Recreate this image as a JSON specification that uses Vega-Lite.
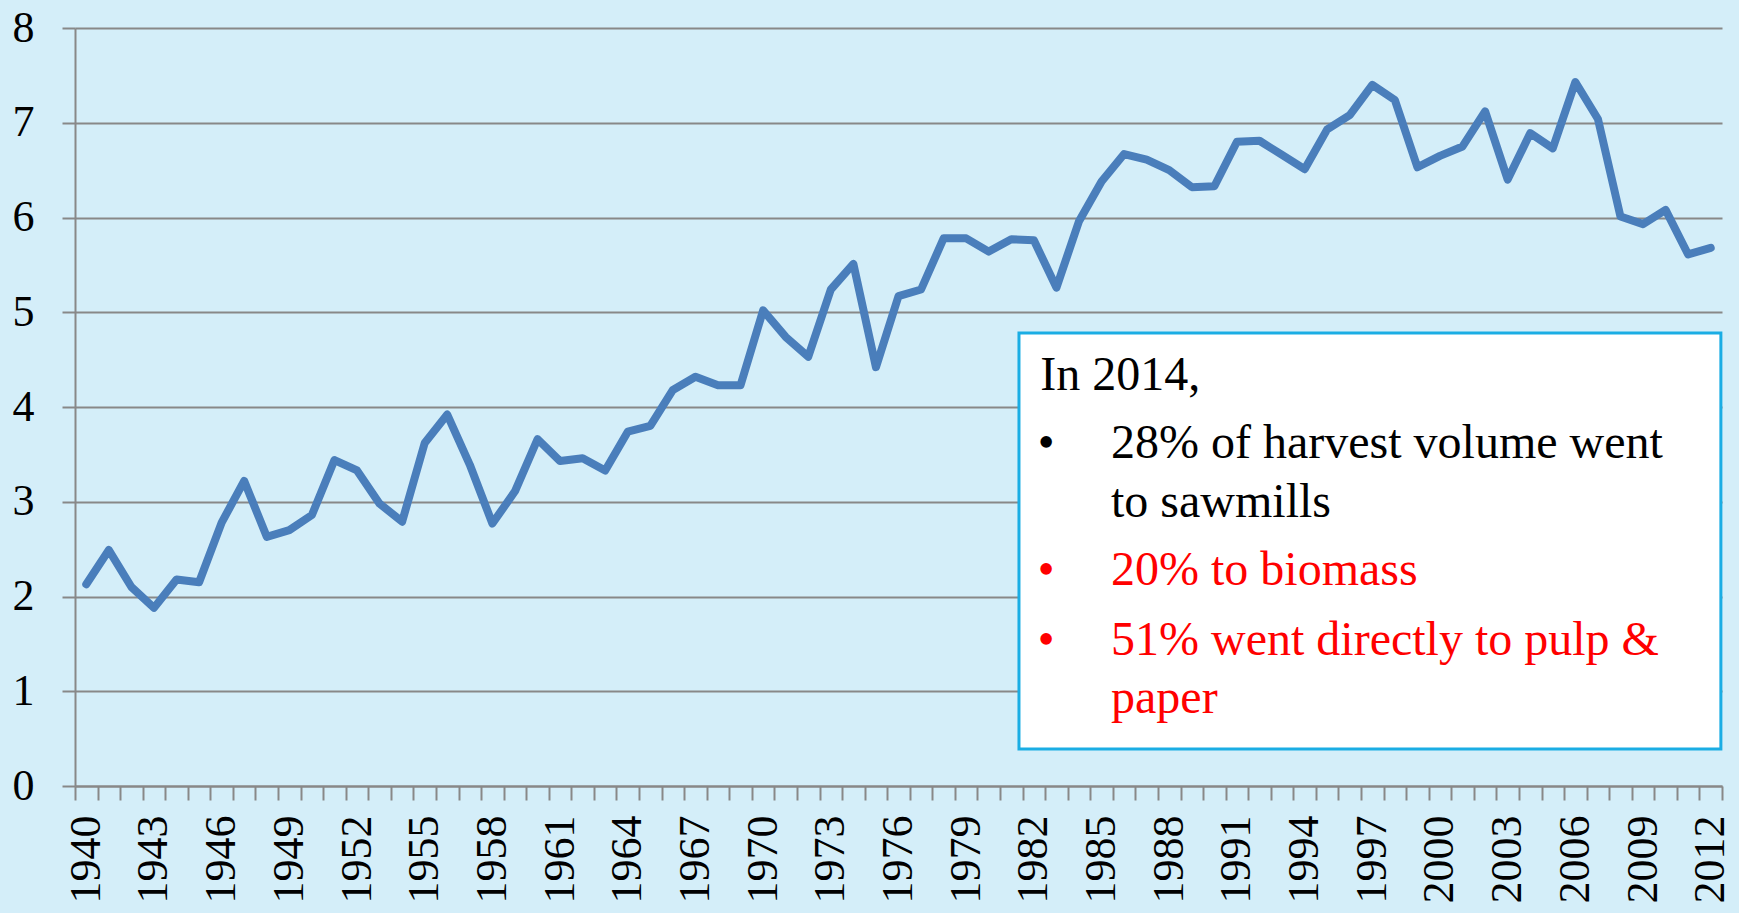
{
  "$schema": "https://vega.github.io/schema/vega-lite/v6.json",
  "width": 1647,
  "height": 758,
  "autosize": {"type": "none"},
  "padding": {"left": 75, "top": 28, "right": 17, "bottom": 127},
  "background": "#D4EEF9",
  "config": {
    "view": {"stroke": null},
    "axis": {
      "labelFont": "Liberation Serif",
      "labelFontSize": 44,
      "labelColor": "#000000",
      "domainColor": "#888888",
      "domainWidth": 2,
      "tickColor": "#888888",
      "tickWidth": 2,
      "gridColor": "#888888",
      "gridWidth": 1.8,
      "title": null
    }
  },
  "data": {
    "values": [
      {"year": 1940, "value": 2.13}, {"year": 1941, "value": 2.49}, {"year": 1942, "value": 2.10},
      {"year": 1943, "value": 1.88}, {"year": 1944, "value": 2.18}, {"year": 1945, "value": 2.15},
      {"year": 1946, "value": 2.78}, {"year": 1947, "value": 3.22}, {"year": 1948, "value": 2.63},
      {"year": 1949, "value": 2.70}, {"year": 1950, "value": 2.86}, {"year": 1951, "value": 3.44},
      {"year": 1952, "value": 3.33}, {"year": 1953, "value": 2.98}, {"year": 1954, "value": 2.79},
      {"year": 1955, "value": 3.62}, {"year": 1956, "value": 3.92}, {"year": 1957, "value": 3.39},
      {"year": 1958, "value": 2.77}, {"year": 1959, "value": 3.11}, {"year": 1960, "value": 3.66},
      {"year": 1961, "value": 3.43}, {"year": 1962, "value": 3.46}, {"year": 1963, "value": 3.33},
      {"year": 1964, "value": 3.74}, {"year": 1965, "value": 3.80}, {"year": 1966, "value": 4.18},
      {"year": 1967, "value": 4.32}, {"year": 1968, "value": 4.23}, {"year": 1969, "value": 4.23},
      {"year": 1970, "value": 5.02}, {"year": 1971, "value": 4.74}, {"year": 1972, "value": 4.53},
      {"year": 1973, "value": 5.24}, {"year": 1974, "value": 5.51}, {"year": 1975, "value": 4.42},
      {"year": 1976, "value": 5.17}, {"year": 1977, "value": 5.24}, {"year": 1978, "value": 5.78},
      {"year": 1979, "value": 5.78}, {"year": 1980, "value": 5.64}, {"year": 1981, "value": 5.77},
      {"year": 1982, "value": 5.76}, {"year": 1983, "value": 5.26}, {"year": 1984, "value": 5.96},
      {"year": 1985, "value": 6.38}, {"year": 1986, "value": 6.67}, {"year": 1987, "value": 6.61},
      {"year": 1988, "value": 6.50}, {"year": 1989, "value": 6.32}, {"year": 1990, "value": 6.33},
      {"year": 1991, "value": 6.80}, {"year": 1992, "value": 6.81}, {"year": 1993, "value": 6.66},
      {"year": 1994, "value": 6.51}, {"year": 1995, "value": 6.93}, {"year": 1996, "value": 7.08},
      {"year": 1997, "value": 7.40}, {"year": 1998, "value": 7.24}, {"year": 1999, "value": 6.53},
      {"year": 2000, "value": 6.65}, {"year": 2001, "value": 6.75}, {"year": 2002, "value": 7.12},
      {"year": 2003, "value": 6.40}, {"year": 2004, "value": 6.89}, {"year": 2005, "value": 6.73},
      {"year": 2006, "value": 7.43}, {"year": 2007, "value": 7.04}, {"year": 2008, "value": 6.01},
      {"year": 2009, "value": 5.93}, {"year": 2010, "value": 6.08}, {"year": 2011, "value": 5.61},
      {"year": 2012, "value": 5.68}
    ]
  },
  "layer": [
    {
      "mark": {"type": "line", "color": "#4A7EBB", "strokeWidth": 8, "strokeJoin": "round", "strokeCap": "round"},
      "encoding": {
        "x": {
          "field": "year", "type": "quantitative",
          "scale": {"domain": [1939.5, 2012.5], "nice": false, "zero": false},
          "axis": {
            "values": [1939.5, 1940.5, 1941.5, 1942.5, 1943.5, 1944.5, 1945.5, 1946.5, 1947.5, 1948.5, 1949.5, 1950.5, 1951.5, 1952.5, 1953.5, 1954.5, 1955.5, 1956.5, 1957.5, 1958.5, 1959.5, 1960.5, 1961.5, 1962.5, 1963.5, 1964.5, 1965.5, 1966.5, 1967.5, 1968.5, 1969.5, 1970.5, 1971.5, 1972.5, 1973.5, 1974.5, 1975.5, 1976.5, 1977.5, 1978.5, 1979.5, 1980.5, 1981.5, 1982.5, 1983.5, 1984.5, 1985.5, 1986.5, 1987.5, 1988.5, 1989.5, 1990.5, 1991.5, 1992.5, 1993.5, 1994.5, 1995.5, 1996.5, 1997.5, 1998.5, 1999.5, 2000.5, 2001.5, 2002.5, 2003.5, 2004.5, 2005.5, 2006.5, 2007.5, 2008.5, 2009.5, 2010.5, 2011.5, 2012.5],
            "tickCount": 100,
            "labelExpr": "(datum.value + 0.5 - 1940) % 3 == 0 ? '' + (datum.value + 0.5) : ''",
            "labelFont": "Liberation Serif",
            "labelOffset": 11.28,
            "labelAngle": -90,
            "labelPadding": 15,
            "tickSize": 14,
            "grid": false,
            "labelOverlap": false,
            "labelBound": false,
            "labelFlush": false
          }
        },
        "y": {
          "field": "value", "type": "quantitative",
          "scale": {"domain": [0, 8], "nice": false},
          "axis": {
            "values": [0, 1, 2, 3, 4, 5, 6, 7, 8],
            "tickCount": 20,
            "format": "d",
            "labelFont": "Liberation Serif",
            "tickSize": 13,
            "labelPadding": 28,
            "grid": true,
            "labelOverlap": false,
            "labelFlush": false
          }
        }
      }
    },
    {
      "data": {"values": [{}]},
      "mark": {"type": "rect", "fill": "#FFFFFF", "stroke": "#1AADE4", "strokeWidth": 3},
      "encoding": {
        "x": {"datum": 1981.34, "type": "quantitative"},
        "x2": {"datum": 2012.45},
        "y": {"datum": 4.78, "type": "quantitative"},
        "y2": {"datum": 0.39}
      }
    },
    {
      "data": {"values": [{}]},
      "mark": {"type": "text", "text": "In 2014,", "font": "Liberation Serif", "fontSize": 48, "align": "left", "baseline": "alphabetic", "color": "#000000"},
      "encoding": {
        "x": {"datum": 1982.28, "type": "quantitative"},
        "y": {"datum": 4.18, "type": "quantitative"}
      }
    },
    {
      "data": {"values": [{}]},
      "mark": {"type": "text", "text": "•", "font": "Liberation Serif", "fontSize": 48, "align": "center", "baseline": "alphabetic", "color": "#000000"},
      "encoding": {
        "x": {"datum": 1982.54, "type": "quantitative"},
        "y": {"datum": 3.462, "type": "quantitative"}
      }
    },
    {
      "data": {"values": [{}]},
      "mark": {"type": "text", "text": ["28% of harvest volume went", "to sawmills"], "lineHeight": 59, "font": "Liberation Serif", "fontSize": 48, "align": "left", "baseline": "alphabetic", "color": "#000000"},
      "encoding": {
        "x": {"datum": 1985.42, "type": "quantitative"},
        "y": {"datum": 3.462, "type": "quantitative"}
      }
    },
    {
      "data": {"values": [{}]},
      "mark": {"type": "text", "text": "•", "font": "Liberation Serif", "fontSize": 48, "align": "center", "baseline": "alphabetic", "color": "#FF0000"},
      "encoding": {
        "x": {"datum": 1982.54, "type": "quantitative"},
        "y": {"datum": 2.121, "type": "quantitative"}
      }
    },
    {
      "data": {"values": [{}]},
      "mark": {"type": "text", "text": "20% to biomass", "font": "Liberation Serif", "fontSize": 48, "align": "left", "baseline": "alphabetic", "color": "#FF0000"},
      "encoding": {
        "x": {"datum": 1985.42, "type": "quantitative"},
        "y": {"datum": 2.121, "type": "quantitative"}
      }
    },
    {
      "data": {"values": [{}]},
      "mark": {"type": "text", "text": "•", "font": "Liberation Serif", "fontSize": 48, "align": "center", "baseline": "alphabetic", "color": "#FF0000"},
      "encoding": {
        "x": {"datum": 1982.54, "type": "quantitative"},
        "y": {"datum": 1.383, "type": "quantitative"}
      }
    },
    {
      "data": {"values": [{}]},
      "mark": {"type": "text", "text": ["51% went directly to pulp &", "paper"], "lineHeight": 58, "font": "Liberation Serif", "fontSize": 48, "align": "left", "baseline": "alphabetic", "color": "#FF0000"},
      "encoding": {
        "x": {"datum": 1985.42, "type": "quantitative"},
        "y": {"datum": 1.383, "type": "quantitative"}
      }
    }
  ]
}
